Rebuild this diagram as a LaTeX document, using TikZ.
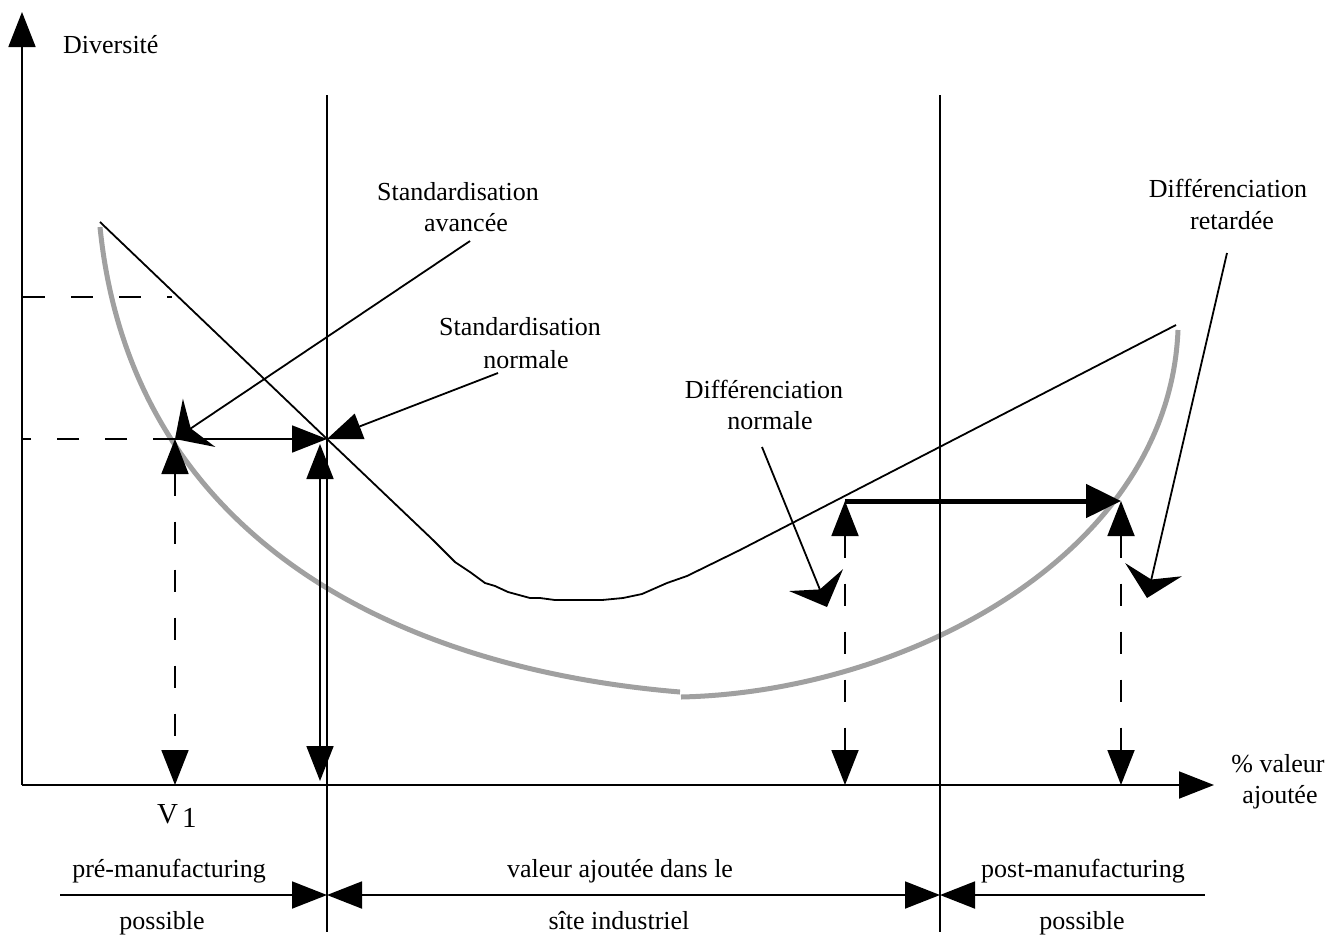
\documentclass[tikz,border=0pt]{standalone}
\usepackage{fontspec}
\setmainfont{Liberation Serif}
\usetikzlibrary{arrows.meta}
\definecolor{curvegray}{RGB}{160,160,160}
\begin{document}
\begin{tikzpicture}[x=1pt,y=-1pt,
  BigHead/.tip={Triangle[length=35pt,width=27pt]},
  FlatHead/.tip={Stealth[length=29pt,width=58pt,inset=10pt]},
  ln/.style={line width=1.8pt, line cap=butt},
  dsh/.style={ln, dash pattern=on 22pt off 26pt},
  lbl/.style={font=\fontsize{26}{31}\selectfont, inner sep=0pt, anchor=base},
  gcurve/.style={line width=5pt, draw=curvegray}]
\useasboundingbox (0,0) rectangle (1330,938);

% key points
\coordinate (O) at (22,785);
\coordinate (Ytop) at (22,12);
\coordinate (Xend) at (1214,785);
\coordinate (S1top) at (327,95);
\coordinate (S1bot) at (327,932);
\coordinate (S2top) at (940,95);
\coordinate (S2bot) at (940,932);
\coordinate (Dl) at (60,895);
\coordinate (D1) at (327,895);
\coordinate (D2) at (940,895);
\coordinate (Dr) at (1205,895);
\coordinate (P) at (175,439);
\coordinate (Pbot) at (175,785);
\coordinate (Q) at (327,439);
\coordinate (R) at (320,444);
\coordinate (Rbot) at (320,781);
\coordinate (A) at (845,501);
\coordinate (Abot) at (845,785);
\coordinate (B) at (1121,501);
\coordinate (Bbot) at (1121,785);
\coordinate (H1) at (23,297);
\coordinate (H1e) at (172,297);
\coordinate (H2) at (22,439);
\coordinate (avS) at (470,241);
\coordinate (nmS) at (498,373);
\coordinate (dnS) at (762,447);
\coordinate (dnT) at (827,607);
\coordinate (drS) at (1227,253);
\coordinate (drT) at (1147,598);

% grey curve, in two arcs
\draw[gcurve] (100,227) .. controls (130,527) and (380,667) .. (680,692);
\draw[gcurve] (681,697) .. controls (906,692) and (1169,555) .. (1178,330);

% black curve
\draw[ln, line join=round] (100,222) -- (Q) -- (433,540) -- (455,562) -- (470,572) -- (485,583)
  -- (495,586) -- (508,592) -- (530,598) -- (540,598) -- (555,600) -- (602,600) -- (623,598)
  -- (642,594) -- (667,583) -- (687,576) -- (740,550) -- (1176,325);

% axes
\draw[ln, -BigHead] (O) -- (Ytop);
\draw[ln, -BigHead] (O) -- (Xend);

% separators
\draw[ln] (S1top) -- (S1bot);
\draw[ln] (S2top) -- (S2bot);

% bottom dimension line
\draw[ln, -BigHead] (Dl) -- (D1);
\draw[ln, BigHead-BigHead] (D1) -- (D2);
\draw[ln, BigHead-] (D2) -- (Dr);

% dashed guides
\draw[dsh] (H1) -- (H1e);
\draw[dsh] (P) -- (H2);
\draw[dsh, BigHead-BigHead] (P) -- (Pbot);
\draw[dsh, BigHead-BigHead] (A) -- (Abot);
\draw[dsh, BigHead-BigHead] (B) -- (Bbot);

% solid arrows
\draw[ln, -BigHead] (P) -- (Q);
\draw[ln, BigHead-BigHead] (R) -- (Rbot);
\draw[line width=5pt, -{Triangle[length=35pt,width=33pt]}] (A) -- (B);

% labels
\node[lbl, anchor=base west] (div) at (63,53) {Diversité};
\node[lbl] (xl1) at (1278,772) {\% valeur};
\node[lbl] (xl2) at (1280,803) {ajoutée};
\node[lbl, anchor=base west, font=\fontsize{29}{31}\selectfont] (v1) at (157,823)
  {V\hspace{4pt}\raisebox{-4pt}{1}};
\node[lbl] (pre1) at (169,877) {pré-manufacturing};
\node[lbl] (pre2) at (162,929) {possible};
\node[lbl] (mid1) at (620,877) {valeur ajoutée dans le};
\node[lbl] (mid2) at (619,929) {sîte industriel};
\node[lbl] (post1) at (1083,877) {post-manufacturing};
\node[lbl] (post2) at (1082,929) {possible};
\node[lbl] (sa1) at (458,200) {Standardisation};
\node[lbl] (sa2) at (466,231) {avancée};
\node[lbl] (sn1) at (520,335) {Standardisation};
\node[lbl] (sn2) at (526,368) {normale};
\node[lbl] (dn1) at (764,398) {Différenciation};
\node[lbl] (dn2) at (770,429) {normale};
\node[lbl] (dr1) at (1228,197) {Différenciation};
\node[lbl] (dr2) at (1232,229) {retardée};

% label pointers
\draw[ln, -FlatHead] (avS) -- (P);
\draw[ln, -BigHead] (nmS) -- (Q);
\draw[ln, -FlatHead] (dnS) -- (dnT);
\draw[ln, -FlatHead] (drS) -- (drT);
\end{tikzpicture}
\end{document}
